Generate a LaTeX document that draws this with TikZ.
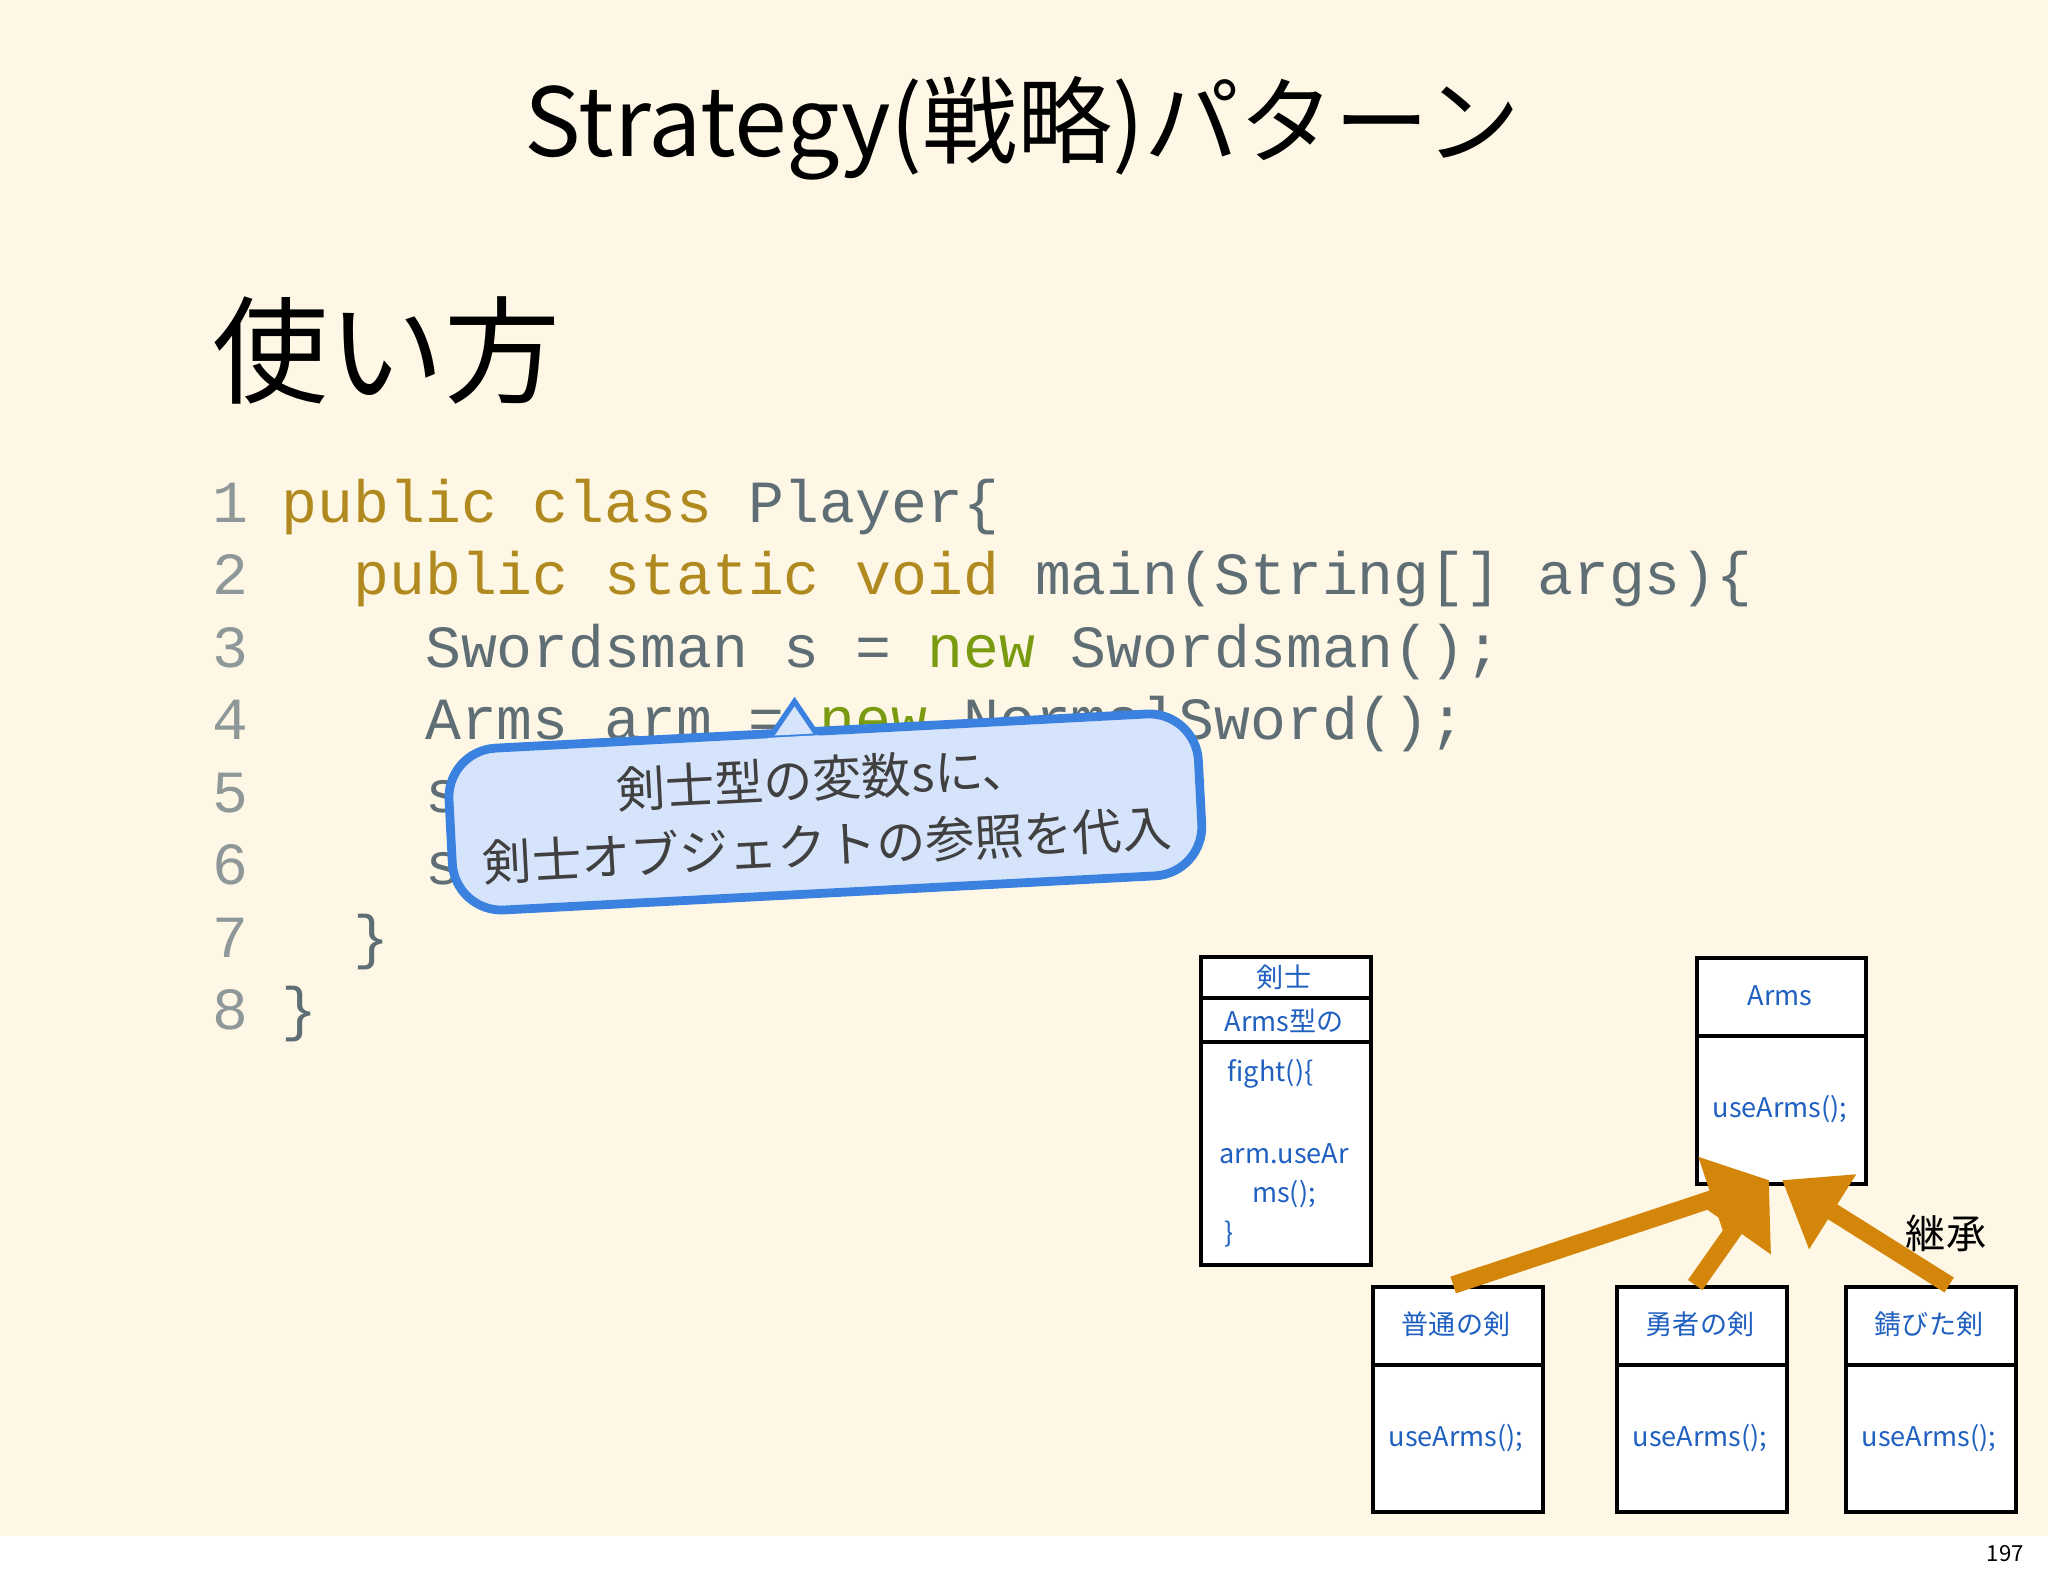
\documentclass[tikz,border=0pt]{standalone}
\usepackage{fontspec}
\setmainfont{Noto Sans CJK JP}
\newfontfamily\codefont{Liberation Mono}
\usetikzlibrary{arrows.meta}
\definecolor{bg}{HTML}{FEF7E6}
\definecolor{kw}{HTML}{B08A1E}
\definecolor{cd}{HTML}{5E6E74}
\definecolor{nw}{HTML}{7A9A10}
\definecolor{ln}{HTML}{8E9898}
\definecolor{umlt}{HTML}{2060C0}
\definecolor{arr}{HTML}{D4860B}
\definecolor{cfill}{HTML}{D6E4FB}
\definecolor{cline}{HTML}{3B82E0}
\tikzset{
  codeln/.style={anchor=base west,inner sep=0,font=\codefont\fontsize{17}{20}\selectfont,text=cd},
  lnum/.style={anchor=base west,inner sep=0,font=\codefont\fontsize{17}{20}\selectfont,text=ln},
  umlbox/.style={draw=black,line width=1.2pt,fill=white,anchor=north west,inner sep=0},
  umltxt/.style={text=umlt,font=\fontsize{7.7}{10}\selectfont,inner sep=0},
  inh/.style={arr,line width=5pt,-{Triangle[length=17pt,width=24pt]}}
}
\begin{document}
\begin{tikzpicture}[x=0.01cm,y=-0.01cm]
\fill[bg] (0,0) rectangle (2048,1536);
\fill[white] (0,1536) rectangle (2048,1576);
\useasboundingbox (0,0) rectangle (2048,1576);
\node (title) at (1022,128) {\fontsize{27}{32}\selectfont Strategy(戦略)パターン};
\node[anchor=west] (howto) at (200,350) {\fontsize{33}{38}\selectfont 使い方};
% code
\newcommand\kwd[1]{\textcolor{kw}{#1}}
\newcommand\nwd[1]{\textcolor{nw}{#1}}
\foreach \n/\yy in {1/522,2/594,3/667,4/739,5/812,6/884,7/957,8/1029}{\node[lnum] (ln\n) at (212,\yy) {\n};}
\node[codeln] (c1) at (281,522) {\kwd{public class} Player\{};
\node[codeln] (c2) at (281,594) {\ \ \kwd{public static void} main(String[] args)\{};
\node[codeln] (c3) at (281,667) {\ \ \ \ Swordsman s = \nwd{new} Swordsman();};
\node[codeln] (c4) at (281,739) {\ \ \ \ Arms arm = \nwd{new} NormalSword();};
\node[codeln] (c5) at (281,812) {\ \ \ \ s.setArms(arm);};
\node[codeln] (c6) at (281,884) {\ \ \ \ s.fight();};
\node[codeln] (c7) at (281,957) {\ \ \}};
\node[codeln] (c8) at (281,1029) {\}};
% callout
\begin{scope}[rotate around={3:(825,805)},transform shape]
\node[draw=cline,line width=2.5pt,fill=cfill,rounded corners=14pt,minimum width=7.5cm,minimum height=1.62cm,align=center,font=\fontsize{14}{19}\selectfont,text=black!75] (callout) at (825,812) {剣士型の変数sに、\\剣士オブジェクトの参照を代入};
\coordinate (ptip) at (800,700);
\filldraw[cline,fill=cfill,line width=1.5pt] (775,733) -- (ptip) -- (820,733);
\fill[cfill] (772,735) rectangle (823,746);
\end{scope}
% UML
\node[umlbox,minimum width=1.70cm,minimum height=3.08cm] (sw) at (1199,955) {};
\draw[line width=1.2pt] (1199,998) -- (1369,998) (1199,1042) -- (1369,1042);
\node[umltxt] (swt) at (1284,977) {剣士};
\node[umltxt] (swa) at (1284,1021) {Arms型の};
\node[umltxt,anchor=west] (swf) at (1227,1074) {fight()\{};
\node[umltxt] (swu) at (1284,1154) {arm.useAr};
\node[umltxt] (swm) at (1284,1194) {ms();};
\node[umltxt,anchor=west] (swe) at (1224,1234) {\}};
\node[umlbox,minimum width=1.69cm,minimum height=2.26cm] (arms) at (1695,956) {};
\draw[line width=1.2pt] (1695,1036) -- (1864,1036);
\node[umltxt] (armst) at (1780,996) {Arms};
\node[umltxt] (armsu) at (1780,1109) {useArms();};
\foreach \nm/\xx/\lab in {b1/1371/普通の剣,b2/1615/勇者の剣,b3/1844/錆びた剣}{
  \node[umlbox,minimum width=1.70cm,minimum height=2.25cm] (\nm) at (\xx,1285) {};
  \draw[line width=1.2pt] (\xx,1365) -- ++(170,0);
  \node[umltxt] (\nm t) at (\xx+85,1324) {\lab};
  \node[umltxt] (\nm u) at (\xx+85,1438) {useArms();};
}
\coordinate (tipA) at (1769,1180);
\coordinate (tipB) at (1782,1180);
\draw[inh] ([xshift=-0.05cm]b1.north) -- (tipA);
\draw[inh] ([xshift=-0.07cm]b2.north) -- (tipA);
\draw[inh] ([xshift=0.18cm]b3.north) -- (tipB);
\node (inherit) at (1946,1233) {\fontsize{11.4}{14}\selectfont 継承};
\node[anchor=east] (page) at (2036,1554) {\fontsize{6.3}{8}\selectfont 197};
\end{tikzpicture}
\end{document}
